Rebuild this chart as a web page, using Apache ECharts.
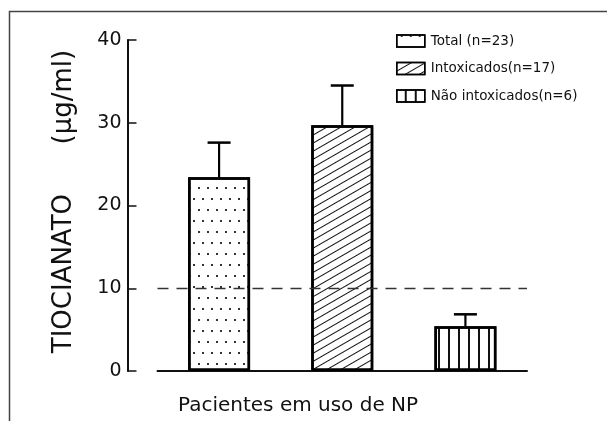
<!DOCTYPE html>
<html>
<head>
<meta charset="utf-8">
<script src="https://cdn.jsdelivr.net/npm/echarts@6/dist/echarts.min.js"></script>
<style>html,body{margin:0;padding:0;background:#fff;}#c{width:607px;height:421px;}</style>
</head>
<body>
<div id="c"></div>
<script>
// ---- data ----
const categories = ['Total (n=23)', 'Intoxicados(n=17)', 'Não intoxicados(n=6)'];
const means = [23.4, 29.7, 5.4];
const errors = [4.2, 4.8, 1.45];
const yTicks = [0, 10, 20, 30, 40];
const referenceLevel = 10;

const decals = [
  { symbol: 'rect', symbolSize: 1, color: '#333', dashArrayX: [[1.2, 6.8], [0, 4, 1.2, 2.8]], dashArrayY: [1.2, 8.8] },
  { symbol: 'rect', symbolSize: 1, color: '#111', dashArrayX: [1, 0], dashArrayY: [0.6, 5.3], rotation: -Math.PI / 6 },
  { symbol: 'rect', symbolSize: 1, color: '#111', dashArrayX: [1, 0], dashArrayY: [1.5, 7.7], rotation: Math.PI / 2 }
];

const chart = echarts.init(document.getElementById('c'), null, { renderer: 'canvas' });

const barSeries = categories.map((name, i) => ({
  name: name,
  type: 'bar',
  stack: 'all',
  barWidth: 62,
  data: categories.map((c, j) => (j === i ? means[i] : '-')),
  itemStyle: { color: '#fff', borderColor: '#000', borderWidth: 2.5, decal: decals[i] },
  emphasis: { disabled: true },
  silent: true,
  z: 2
}));

barSeries[0].markLine = {
  silent: true,
  symbol: 'none',
  label: { show: false },
  lineStyle: { color: '#333', type: [11, 8], width: 1.3 },
  data: [{ yAxis: referenceLevel }]
};

const errSeries = {
  type: 'custom',
  silent: true,
  z: 5,
  data: categories.map((c, i) => [i, means[i], means[i] + errors[i]]),
  renderItem: function (params, api) {
    const x = api.value(0);
    const lo = api.coord([x, api.value(1)]);
    const hi = api.coord([x, api.value(2)]);
    const half = 11.5;
    return {
      type: 'group',
      children: [
        { type: 'line', shape: { x1: lo[0], y1: lo[1], x2: hi[0], y2: hi[1] }, style: { stroke: '#000', lineWidth: 2.2 } },
        { type: 'line', shape: { x1: hi[0] - half, y1: hi[1], x2: hi[0] + half, y2: hi[1] }, style: { stroke: '#000', lineWidth: 2.5 } }
      ]
    };
  }
};

chart.setOption({
  animation: false,
  backgroundColor: '#fff',
  textStyle: { fontFamily: 'DejaVu Sans' },
  grid: { left: 157.5, right: 80, top: 40, bottom: 50, containLabel: false },
  title: {
    text: 'Pacientes em uso de NP',
    left: 173,
    top: 391,
    textStyle: { fontSize: 20, fontWeight: 'normal', color: '#111', fontFamily: 'DejaVu Sans' }
  },
  legend: {
    orient: 'vertical',
    left: 396,
    top: 34,
    padding: 0,
    itemWidth: 28,
    itemHeight: 12,
    itemGap: 13.5,
    selectedMode: false,
    icon: 'rect',
    data: categories,
    itemStyle: { borderColor: '#000', borderWidth: 1.5, decal: 'inherit' },
    textStyle: { fontSize: 13.5, color: '#111', fontFamily: 'DejaVu Sans', padding: [0, 0, 0, 1] }
  },
  xAxis: {
    type: 'category',
    data: categories,
    axisLine: { lineStyle: { color: '#111', width: 2 } },
    axisTick: { show: false },
    axisLabel: { show: false },
    splitLine: { show: false }
  },
  yAxis: {
    type: 'value',
    min: yTicks[0],
    max: yTicks[yTicks.length - 1],
    interval: 10,
    offset: 30,
    name: 'TIOCIANATO      (μg/ml)',
    nameLocation: 'middle',
    nameGap: 50,
    nameTextStyle: { fontSize: 26, color: '#111', fontFamily: 'DejaVu Sans', padding: [0, 0, 0, 8] },
    axisLine: { show: true, lineStyle: { color: '#111', width: 2 } },
    axisTick: { show: true, inside: true, length: 9, lineStyle: { color: '#111', width: 1.5 } },
    axisLabel: { fontSize: 19, color: '#111', margin: 6 },
    splitLine: { show: false }
  },
  graphic: [
    { type: 'polyline', silent: true, shape: { points: [[9.5, 421], [9.5, 11.5], [607, 11.5]] }, style: { stroke: '#444', lineWidth: 1.5, fill: null } }
  ],
  series: barSeries.concat([errSeries])
});
</script>
</body>
</html>
